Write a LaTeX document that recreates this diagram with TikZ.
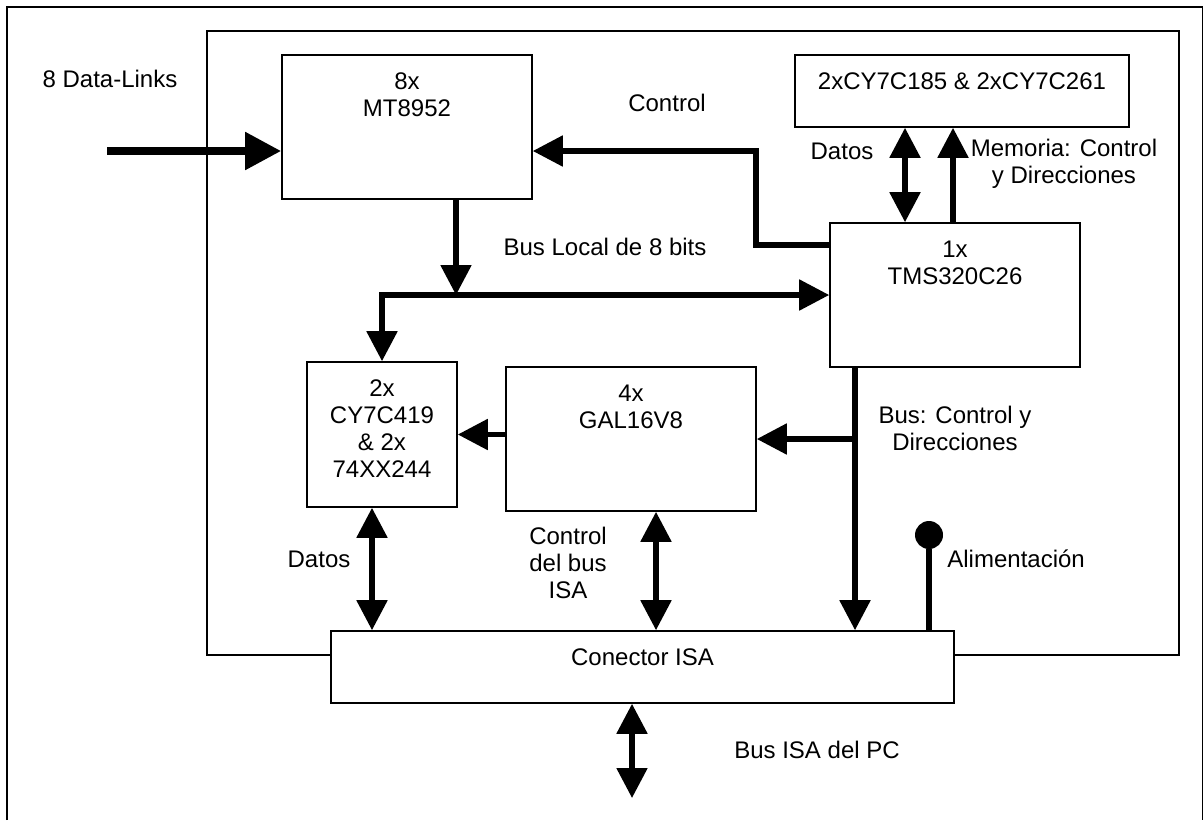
\documentclass[tikz,border=0pt]{standalone}
\usepackage{fontspec}
\setmainfont{Liberation Sans}
\usetikzlibrary{arrows.meta}

\tikzset{
	bloque/.style = {draw, fill = white, line width = 0.8pt, inner sep = 0pt},
	txt/.style = {align = center, inner sep = 0pt},
	bus/.style = {line width = 2.6pt},
	punto/.style = {circle, fill = black, minimum size = 14pt, inner sep = 0pt},
	>={Triangle[length = 15pt, width = 15pt]}
}

\begin{document}
\begin{tikzpicture}[x = 0.5pt, y = -0.5pt, font = \fontsize{12}{13.5}\selectfont]
	\useasboundingbox (0,0) rectangle (1204,820);
	% marcos
	\draw [line width = 0.8pt] (7,820) -- (7,7) -- (1202.5,7) -- (1202.5,820);
	\draw [line width = 0.8pt] (207,31) rectangle (1179,655);
	% bloques
	\node [bloque, minimum width = 125pt, minimum height = 72pt] (mt) at (407,127) {};
	\node [bloque, minimum width = 167pt, minimum height = 36pt] (mem) at (962,91) {};
	\node [bloque, minimum width = 125pt, minimum height = 72pt] (tms) at (955,295) {};
	\node [bloque, minimum width = 75pt, minimum height = 72.5pt] (cy) at (382,434.5) {};
	\node [bloque, minimum width = 125pt, minimum height = 72pt] (gal) at (631,439) {};
	\node [bloque, minimum width = 311.5pt, minimum height = 36pt] (isa) at (642.5,667) {};
	\node [txt, anchor = north] (mttxt) at ([yshift = -9pt]mt.north) {8x\\MT8952};
	\node [txt, anchor = north] (memtxt) at ([yshift = -9pt]mem.north) {2xCY7C185 \& 2xCY7C261};
	\node [txt, anchor = north] (tmstxt) at ([yshift = -9pt]tms.north) {1x\\TMS320C26};
	\node [txt, anchor = north] (cytxt) at ([yshift = -9pt]cy.north) {2x\\CY7C419\\\& 2x\\74XX244};
	\node [txt, anchor = north] (galtxt) at ([yshift = -9pt]gal.north) {4x\\GAL16V8};
	\node [txt, anchor = north] (isatxt) at ([yshift = -9pt]isa.north) {Conector ISA};
	% etiquetas
	\node [txt] (ldl) at (110,79) {8 Data-Links};
	\node [txt] (lctl) at (667,103) {Control};
	\node [txt] (lbl) at (605,247) {Bus Local de 8 bits};
	\node [txt] (ldm) at (842,151) {Datos};
	\node [txt] (lmem) at (1064,164) {Memoria: Control\\y Direcciones};
	\node [txt] (lbcd) at (955,428) {Bus: Control y\\Direcciones};
	\node [txt] (ldi) at (319,559) {Datos};
	\node [txt] (lcb) at (568,563) {Control\\del bus\\ISA};
	\node [txt, anchor = west] (lal) at (947,559) {Alimentación};
	\node [txt] (lpc) at (817,750) {Bus ISA del PC};
	% conexiones
	\coordinate (dl) at (107,151);
	\draw [line width = 4pt, -{Triangle[length = 18pt, width = 18pt]}] (dl) -- (dl -| mt.west);
	\coordinate (ctl) at (756,245);
	\draw [bus, ->] (ctl -| tms.west) -- (ctl) |- (dl -| mt.east);
	\coordinate (bl) at (456,295);
	\draw [bus, ->] (bl |- mt.south) -- (bl);
	\draw [bus, <->] (cy.north) |- (tms.west);
	\coordinate (xd) at (905,0);
	\coordinate (xm) at (953,0);
	\draw [bus, <->] (xd |- mem.south) -- (xd |- tms.north);
	\draw [bus, ->] (xm |- tms.north) -- (xm |- mem.south);
	\coordinate (xb) at (855,439);
	\draw [bus, ->] (xb |- tms.south) -- (xb |- isa.north);
	\draw [bus, ->] (xb) -- (gal.east);
	\draw [bus, ->] (gal.west |- cy.east) -- (cy.east);
	\coordinate (xdi) at (372,0);
	\coordinate (xcb) at (656,0);
	\draw [bus, <->] (xdi |- cy.south) -- (xdi |- isa.north);
	\draw [bus, <->] (xcb |- gal.south) -- (xcb |- isa.north);
	\coordinate (pc) at (632,798);
	\draw [bus, <->] (pc |- isa.south) -- (pc);
	\node [punto] (pwr) at (929,535) {};
	\draw [bus] (pwr) -- (pwr |- isa.north);
\end{tikzpicture}
\end{document}
